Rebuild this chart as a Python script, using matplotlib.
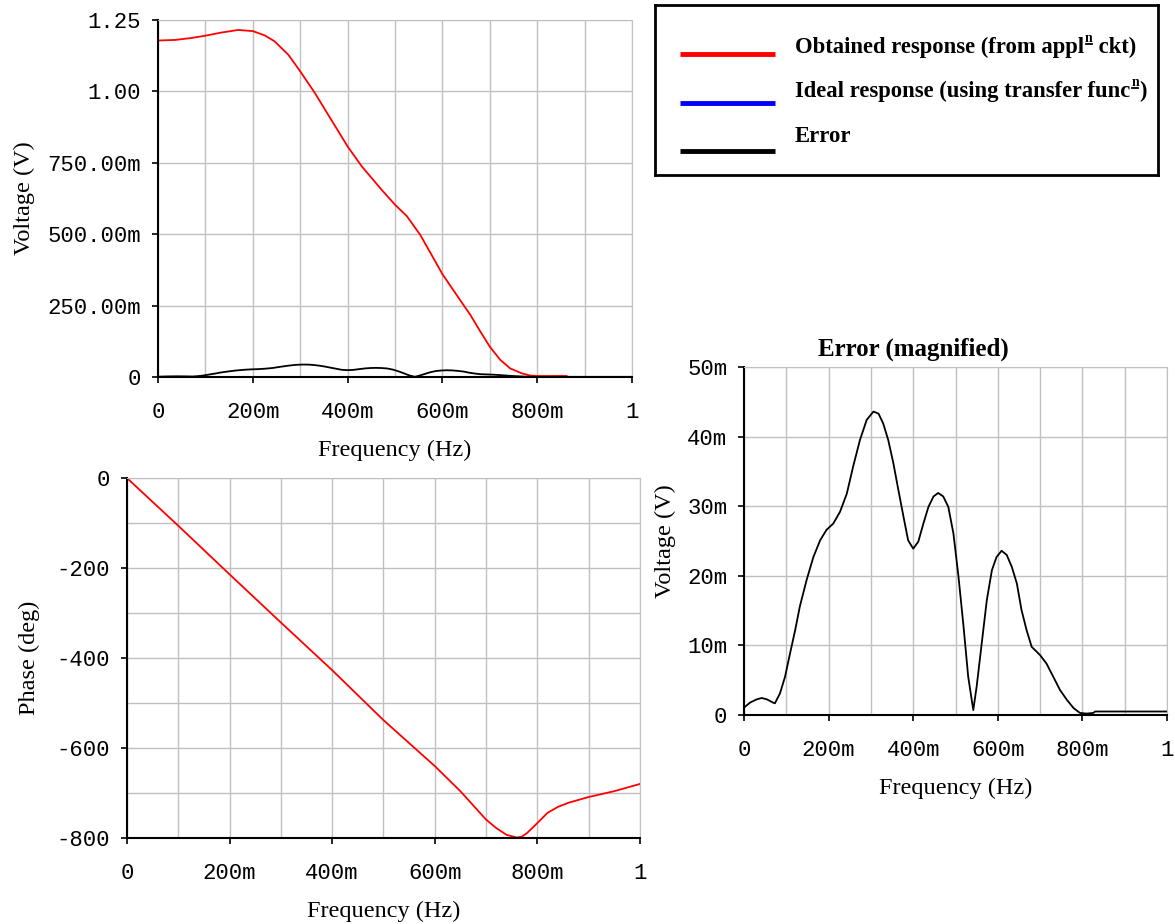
"""
Filter frequency response: magnitude, phase and magnified error.
"""

import matplotlib
matplotlib.use("Agg")
import matplotlib.pyplot as plt

# magnitude response (V) vs frequency (Hz)
freq_mag = [0.0, 0.036, 0.071, 0.1, 0.134, 0.169, 0.2, 0.225, 0.246,
            0.275, 0.3, 0.331, 0.359, 0.4, 0.43, 0.472, 0.5, 0.525,
            0.553, 0.581, 0.6, 0.63, 0.659, 0.68, 0.7, 0.722, 0.743,
            0.767, 0.785, 0.8, 0.862]
mag_obtained = [1.178, 1.180, 1.187, 1.195, 1.206, 1.215, 1.211, 1.196,
                1.175, 1.128, 1.070, 0.994, 0.918, 0.807, 0.737, 0.655,
                0.603, 0.563, 0.498, 0.416, 0.360, 0.287, 0.217, 0.159,
                0.106, 0.060, 0.030, 0.013, 0.005, 0.0035, 0.0035]

# error (mV) vs frequency (Hz)
freq_err = [0.0, 0.014, 0.030, 0.042, 0.054, 0.069, 0.073, 0.085, 0.097,
            0.109, 0.121, 0.132, 0.148, 0.164, 0.180, 0.195, 0.211, 0.227,
            0.243, 0.258, 0.274, 0.290, 0.306, 0.318, 0.329, 0.341, 0.353,
            0.365, 0.377, 0.388, 0.4, 0.412, 0.424, 0.436, 0.448, 0.459,
            0.471, 0.483, 0.495, 0.507, 0.519, 0.530, 0.542, 0.550, 0.562,
            0.574, 0.586, 0.597, 0.609, 0.621, 0.633, 0.645, 0.656, 0.668,
            0.680, 0.7, 0.715, 0.731, 0.747, 0.763, 0.779, 0.794, 0.810,
            0.826, 0.830, 1.0]
err_mv = [1.05, 1.77, 2.25, 2.44, 2.25, 1.77, 1.68, 3.1, 5.5, 8.9, 12.2,
          15.6, 19.4, 22.7, 25.1, 26.6, 27.5, 29.2, 31.8, 35.7, 39.5,
          42.4, 43.6, 43.3, 41.9, 39.5, 36.2, 32.3, 28.5, 25.1, 23.9,
          24.9, 27.5, 29.9, 31.4, 31.9, 31.4, 29.9, 26.1, 19.9, 12.7, 5.5,
          0.7, 4.1, 10.3, 16.5, 20.8, 22.7, 23.6, 23.0, 21.3, 18.9, 15.1,
          12.2, 9.8, 8.6, 7.4, 5.5, 3.6, 2.2, 1.0, 0.3, 0.2, 0.3, 0.5, 0.5]

# phase (deg) vs frequency (Hz)
freq_phase = [0.0, 0.1, 0.2, 0.3, 0.4, 0.5, 0.6, 0.65, 0.7, 0.72, 0.74,
              0.76, 0.77, 0.78, 0.8, 0.82, 0.84, 0.86, 0.9, 0.95, 1.0]
phase_deg = [0, -106, -214, -321, -427, -538, -640, -696, -759, -778,
             -793, -799, -797, -789, -767, -744, -731, -722, -709, -696,
             -680]

x_ticks = [0, 0.2, 0.4, 0.6, 0.8, 1.0]
x_ticklabels = ["0", "200m", "400m", "600m", "800m", "1"]

MONO = "Liberation Mono"
SERIF = "Liberation Serif"
GRID = "#c0c0c0"


def style(ax, yticks, yticklabels, ygrid, ylabel, ypad):
    ax.set_xlim(0, 1)
    ax.set_ylim(yticks[0], yticks[-1])
    ax.set_xticks(x_ticks)
    ax.set_xticklabels(x_ticklabels, family=MONO, fontsize=16)
    ax.set_xticks([i / 10 for i in range(11)], minor=True)
    ax.set_yticks(yticks)
    ax.set_yticklabels(yticklabels, family=MONO, fontsize=16)
    ax.set_yticks(ygrid, minor=True)
    ax.grid(True, which="both", color=GRID, lw=1)
    ax.set_axisbelow(True)
    ax.tick_params(which="major", length=4, width=1.2, direction="out")
    ax.tick_params(axis="x", pad=14)
    ax.tick_params(axis="y", pad=8)
    ax.tick_params(which="minor", length=0)
    for s in ("top", "right"):
        ax.spines[s].set_color(GRID)
    for s in ("left", "bottom"):
        ax.spines[s].set_linewidth(1.5)
    ax.set_xlabel("Frequency (Hz)", family=SERIF, fontsize=17.5, labelpad=12)
    ax.set_ylabel(ylabel, family=SERIF, fontsize=17.5, labelpad=ypad)


fig = plt.figure(figsize=(11.75, 9.24), dpi=100)

# magnitude
ax1 = fig.add_axes([0.1345, 0.592, 0.4034, 0.3864])
ax1.plot(freq_mag, mag_obtained, color="#ff0000", lw=1.3)
ax1.plot(freq_err, [v / 1000 for v in err_mv], color="black", lw=1.3)
style(ax1, [0, 0.25, 0.5, 0.75, 1.0, 1.25],
      ["0", "250.00m", "500.00m", "750.00m", "1.00", "1.25"],
      [0, 0.25, 0.5, 0.75, 1.0, 1.25], "Voltage (V)", 9)

# phase
ax2 = fig.add_axes([0.108, 0.0931, 0.4366, 0.3896])
ax2.plot(freq_phase, phase_deg, color="#ff0000", lw=1.3)
style(ax2, [-800, -600, -400, -200, 0],
      ["-800", "-600", "-400", "-200", "0"],
      list(range(-800, 1, 100)), "Phase (deg)", 12)

# magnified error
ax3 = fig.add_axes([0.6332, 0.2262, 0.36, 0.3766])
ax3.plot(freq_err, [v / 1000 for v in err_mv], color="black", lw=1.3)
style(ax3, [0, 0.01, 0.02, 0.03, 0.04, 0.05],
      ["0", "10m", "20m", "30m", "40m", "50m"],
      [0, 0.01, 0.02, 0.03, 0.04, 0.05], "Voltage (V)", 8)
ax3.set_title("Error (magnified)", family=SERIF, fontsize=18,
              fontweight="bold", x=0.40, pad=8)

# legend box
lg = fig.add_axes([0.5574, 0.8106, 0.428, 0.184])
lg.set_xlim(0, 503)
lg.set_ylim(170, 0)
lg.set_xticks([])
lg.set_yticks([])
for s in lg.spines.values():
    s.set_linewidth(2)

legend_colors = ["#ff0000", "#0000ff", "black"]
legend_line_y = [49, 98, 146]
legend_text_y = [42, 86, 131]
legend_text = [("Obtained response (from appl", "n", " ckt)"),
               ("Ideal response (using transfer func", "n", ")"),
               ("Error", "", "")]

fig.canvas.draw()
renderer = fig.canvas.get_renderer()
inv = lg.transData.inverted()
for c, yl, yt, (a, sup, b) in zip(legend_colors, legend_line_y,
                                  legend_text_y, legend_text):
    lg.plot([25, 120], [yl, yl], color=c, lw=3.5, solid_capstyle="butt")
    t = lg.text(140, yt, a, family=SERIF, fontsize=16.3,
                fontweight="bold", va="center", ha="left")
    if sup:
        bb = t.get_window_extent(renderer).transformed(inv)
        ts = lg.text(bb.x1 + 1, yt - 8, sup, family=SERIF, fontsize=10,
                     fontweight="bold", va="center", ha="left")
        bs = ts.get_window_extent(renderer).transformed(inv)
        lg.plot([bs.x0 + 0.5, bs.x1 - 0.5], [yt - 3, yt - 3],
                color="black", lw=1.3)
        lg.text(bs.x1, yt, b, family=SERIF, fontsize=16.3,
                fontweight="bold", va="center", ha="left")

fig.savefig("out.png", dpi=100)
